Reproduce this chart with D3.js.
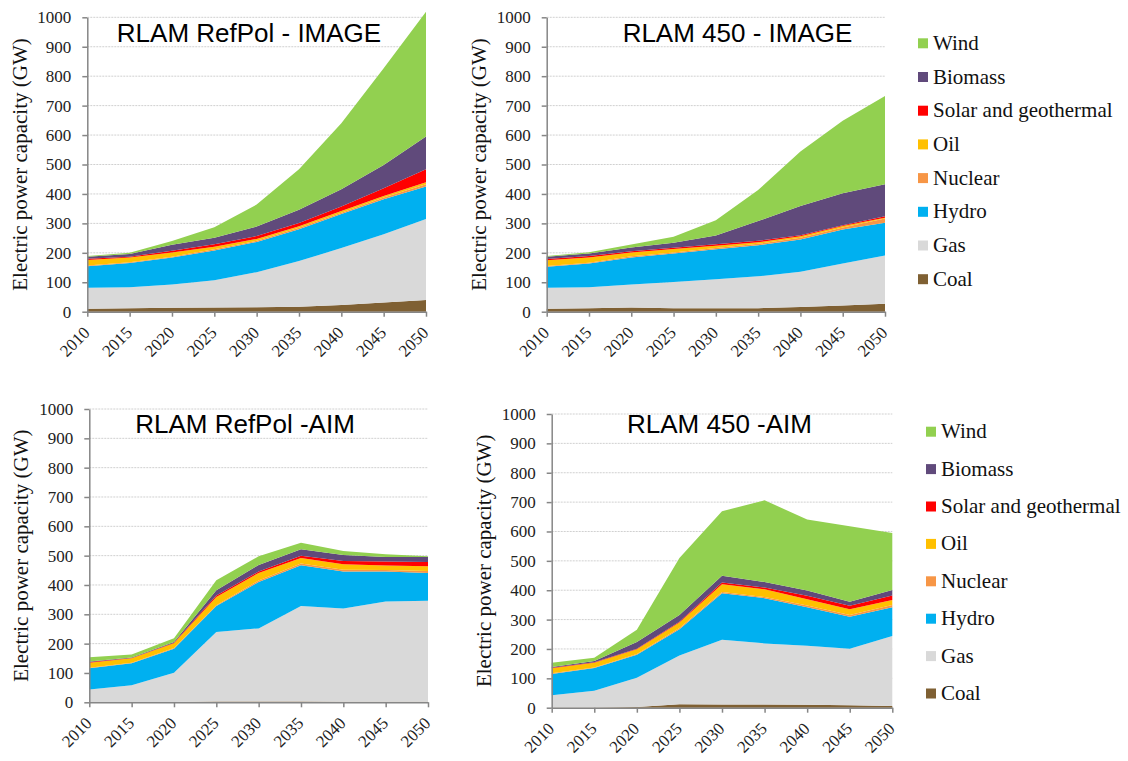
<!DOCTYPE html>
<html>
<head>
<meta charset="utf-8">
<script src="https://cdn.jsdelivr.net/npm/d3@7"></script>
<style>
  body { margin: 0; background: #fff; }
  .ylabel { font-family: "Liberation Serif", "Times New Roman", serif; font-size: 21px; fill: #111; }
  .title { font-family: "Liberation Sans", Arial, sans-serif; font-size: 26px; fill: #000; }
  .legend text { font-family: "Liberation Serif", "Times New Roman", serif; font-size: 21px; fill: #111; }
</style>
</head>
<body>
<script>
// years on the x axis
const years = [2010, 2015, 2020, 2025, 2030, 2035, 2040, 2045, 2050];
const yTicks = [0, 100, 200, 300, 400, 500, 600, 700, 800, 900, 1000];

// stack order, bottom to top
const series = ["Coal", "Gas", "Hydro", "Nuclear", "Oil", "Solar and geothermal", "Biomass", "Wind"];
const colors = ["#7f6033", "#d9d9d9", "#00b0f0", "#f79646", "#ffc000", "#ff0000", "#604a7b", "#92d050"];

// GW per technology, one row per series (same order as `series`)
const refpolImage = [
  [10, 12, 13, 14, 15, 17, 23, 31, 40],
  [71, 71, 79, 93, 119, 155, 193, 232, 275],
  [73, 82, 92, 101, 103, 108, 116, 119, 110],
  [3, 3, 3, 4, 4, 5, 4, 6, 8],
  [19, 16, 14, 9, 6, 5, 6, 5, 7],
  [4, 3, 6, 8, 10, 11, 15, 26, 44],
  [7, 9, 20, 22, 32, 45, 59, 79, 111],
  [2, 4, 13, 36, 75, 138, 224, 329, 424]
];

const p450Image = [
  [10, 12, 14, 12, 12, 12, 16, 21, 27],
  [71, 71, 78, 89, 98, 108, 120, 143, 164],
  [72, 81, 92, 97, 102, 106, 109, 115, 111],
  [2, 2, 4, 3, 4, 5, 6, 7, 15],
  [20, 18, 13, 12, 8, 5, 5, 5, 2],
  [4, 5, 4, 4, 5, 5, 4, 3, 5],
  [8, 9, 13, 17, 30, 67, 99, 108, 109],
  [2, 4, 10, 21, 52, 105, 185, 247, 300]
];

const refpolAim = [
  [1, 1, 1, 3, 3, 3, 2, 2, 2],
  [43, 57, 100, 237, 249, 325, 318, 342, 344],
  [72, 75, 82, 88, 158, 139, 126, 102, 95],
  [2, 2, 2, 3, 5, 6, 6, 5, 7],
  [17, 15, 16, 28, 26, 19, 19, 15, 16],
  [2, 1, 2, 5, 5, 8, 11, 14, 14],
  [2, 2, 3, 18, 22, 22, 20, 15, 17],
  [15, 10, 12, 34, 30, 22, 14, 10, 3]
];

const p450Aim = [
  [1, 1, 2, 12, 11, 11, 10, 8, 6],
  [41, 57, 100, 166, 220, 208, 201, 193, 238],
  [73, 77, 78, 89, 159, 154, 131, 109, 98],
  [2, 2, 3, 4, 4, 4, 6, 6, 8],
  [17, 16, 16, 19, 26, 26, 21, 19, 17],
  [2, 2, 2, 3, 6, 6, 12, 12, 15],
  [3, 4, 23, 23, 23, 19, 18, 14, 19],
  [14, 11, 41, 194, 220, 278, 242, 257, 194]
];

const titles = ["RLAM RefPol - IMAGE", "RLAM 450 - IMAGE", "RLAM RefPol -AIM", "RLAM 450 -AIM"];

// panel placement on the page
const panels = [
  {data: refpolImage, x0: 87.3,  x1: 426,   y0: 17.3, y1: 311.7, tx: 249,   ty: 41.5,  lx: 26.6},
  {data: p450Image,   x0: 546.7, x1: 885,   y0: 17.3, y1: 311.7, tx: 737.5, ty: 41.5,  lx: 486},
  {data: refpolAim,   x0: 89.3,  x1: 428,   y0: 409,  y1: 702.3, tx: 245,   ty: 432.5, lx: 27.9},
  {data: p450Aim,     x0: 551.7, x1: 892.3, y0: 414,  y1: 707.7, tx: 719.5, ty: 432.5, lx: 490.6}
];

const serif = '"Liberation Serif", "Times New Roman", serif';

const svg = d3.select("body").append("svg")
    .attr("width", 1128)
    .attr("height", 761);

panels.forEach((p, pi) => {
  const g = svg.append("g");

  const x = d3.scaleLinear().domain([2010, 2050]).range([p.x0, p.x1]);
  const y = d3.scaleLinear().domain([0, 1000]).range([p.y1, p.y0]);

  // gridlines
  g.append("g")
    .selectAll("line")
    .data(yTicks.slice(1))
    .enter()
    .append("line")
      .attr("x1", p.x0)
      .attr("x2", p.x1)
      .attr("y1", d => y(d))
      .attr("y2", d => y(d))
      .attr("stroke", "#d0d0d0")
      .attr("stroke-width", 1)
      .attr("stroke-dasharray", "2,1");

  // stacked areas
  const rows = years.map((yr, i) => {
    const r = {year: yr};
    series.forEach((s, k) => { r[s] = p.data[k][i]; });
    return r;
  });
  const stacked = d3.stack().keys(series)(rows);
  const area = d3.area()
      .x(d => x(d.data.year))
      .y0(d => y(d[0]))
      .y1(d => y(d[1]));

  g.append("g")
    .selectAll("path")
    .data(stacked)
    .enter()
    .append("path")
      .attr("d", area)
      .attr("fill", (d, i) => colors[i]);

  // y axis
  g.append("g")
    .attr("transform", "translate(" + p.x0 + ",0)")
    .call(d3.axisLeft(y).tickValues(yTicks).tickFormat(d3.format("d")).tickSize(5).tickSizeOuter(0).tickPadding(11))
    .attr("font-family", serif)
    .attr("font-size", 17)
    .call(a => a.selectAll(".domain, .tick line").attr("stroke", "#868686").attr("stroke-width", 1.5))
    .call(a => a.selectAll(".tick text").attr("fill", "#222"));

  // x axis
  g.append("g")
    .attr("transform", "translate(0," + p.y1 + ")")
    .call(d3.axisBottom(x).tickValues(years).tickFormat(d3.format("d")).tickSize(5).tickSizeOuter(0))
    .attr("font-family", serif)
    .attr("font-size", 17)
    .call(a => a.selectAll(".domain, .tick line").attr("stroke", "#868686").attr("stroke-width", 1.5))
    .call(a => a.selectAll(".tick text")
        .attr("fill", "#222")
        .attr("text-anchor", "end")
        .attr("x", 0)
        .attr("y", 0)
        .attr("dy", 0)
        .attr("transform", "translate(3,22) rotate(-45)"));

  // y label
  g.append("text")
    .attr("class", "ylabel")
    .attr("text-anchor", "middle")
    .attr("transform", "translate(" + p.lx + "," + ((p.y0 + p.y1) / 2) + ") rotate(-90)")
    .text("Electric power capacity (GW)");

  // title
  g.append("text")
    .attr("class", "title")
    .attr("text-anchor", "middle")
    .attr("x", p.tx)
    .attr("y", p.ty)
    .text(titles[pi]);
});

// legends (top to bottom: reverse of the stack)
const legendPos = [
  {sx: 918, tx: 933, y: 43.3, step: 33.7},
  {sx: 926, tx: 941, y: 431.7, step: 37.4}
];
const legendOrder = series.slice().reverse();

legendPos.forEach(L => {
  const lg = svg.append("g").attr("class", "legend");
  const item = lg.selectAll("g")
    .data(legendOrder)
    .enter()
    .append("g")
      .attr("transform", (d, i) => "translate(0," + (L.y + i * L.step) + ")");
  item.append("rect")
    .attr("x", L.sx)
    .attr("y", -5)
    .attr("width", 10)
    .attr("height", 10)
    .attr("fill", d => colors[series.indexOf(d)]);
  item.append("text")
    .attr("x", L.tx)
    .attr("y", 6.5)
    .text(d => d);
});
</script>
</body>
</html>
